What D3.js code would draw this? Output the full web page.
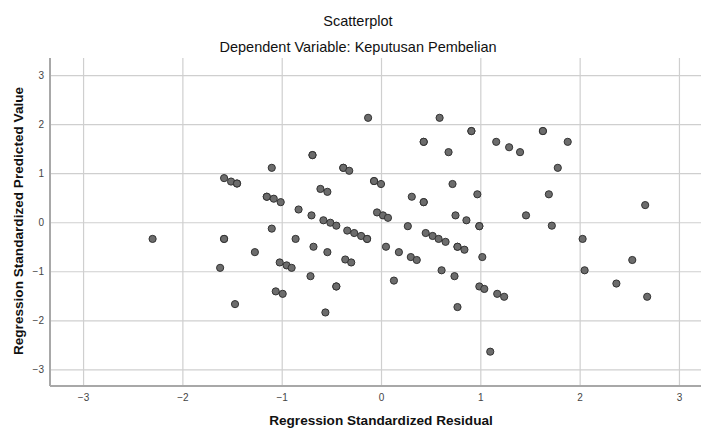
<!DOCTYPE html>
<html>
<head>
<meta charset="utf-8">
<script src="https://cdn.jsdelivr.net/npm/d3@7"></script>
<style>
  body { margin: 0; background: #fff; }
  svg { display: block; font-family: "Liberation Sans", Arial, sans-serif; }
</style>
</head>
<body>
<svg id="chart" width="701" height="428"></svg>
<script>
const title = "Scatterplot";
const subtitle = "Dependent Variable: Keputusan Pembelian";
const xLabel = "Regression Standardized Residual";
const yLabel = "Regression Standardized Predicted Value";
const xTicks = [-3, -2, -1, 0, 1, 2, 3];
const yTicks = [3, 2, 1, 0, -1, -2, -3];

// Standardized residuals (x) and standardized predicted values (y)
const residuals = [
  -2.30, -1.62, -1.58, -1.58, -1.58, -1.51, -1.45, -1.45, -1.47, -1.27,
  -1.10, -1.15, -1.15, -1.08, -1.01, -1.10, -1.02, -0.95, -0.90, -1.06,
  -0.99, -0.86, -0.83, -0.70, -0.69, -0.69, -0.61, -0.54, -0.58, -0.51,
  -0.45, -0.68, -0.71, -0.54, -0.56, -0.45, -0.45, -0.38, -0.38, -0.32,
  -0.36, -0.30, -0.34, -0.27, -0.20, -0.14, -0.14, -0.13, -0.07, -0.07,
   0.00, -0.04, 0.02, 0.07, 0.05, 0.18, 0.13, 0.27, 0.31, 0.30,
   0.36, 0.43, 0.43, 0.43, 0.43, 0.45, 0.52, 0.58, 0.65, 0.59,
   0.61, 0.68, 0.72, 0.75, 0.74, 0.77, 0.77, 0.84, 0.77, 0.86,
   0.91, 0.91, 0.97, 0.99, 0.99, 1.02, 0.99, 1.04, 1.10, 1.16,
   1.17, 1.24, 1.29, 1.40, 1.46, 1.63, 1.63, 1.69, 1.72, 1.78,
   1.88, 2.03, 2.05, 2.37, 2.53, 2.66, 2.68
];
const predicted = [
  -0.34, -0.93, -0.34, -0.34, 0.90, 0.83, 0.79, 0.79, -1.67, -0.61,
   1.11, 0.52, 0.52, 0.48, 0.41, -0.13, -0.82, -0.88, -0.93, -1.41,
  -1.46, -0.34, 0.26, 0.14, 1.37, 1.37, 0.68, 0.62, 0.04, -0.01,
  -0.07, -0.50, -1.10, -0.61, -1.84, -1.31, -1.31, 1.11, 1.11, 1.05,
  -0.76, -0.82, -0.17, -0.22, -0.28, -0.34, -0.34, 2.13, 0.84, 0.84,
   0.78, 0.20, 0.14, 0.09, -0.50, -0.61, -1.19, -0.08, 0.52, -0.71,
  -0.77, 1.64, 1.64, 0.41, 0.41, -0.22, -0.28, -0.34, -0.40, 2.13,
  -0.98, 1.43, 0.78, 0.14, -1.10, -0.50, -0.50, -0.56, -1.73, 0.04,
   1.86, 1.86, 0.57, -0.08, -0.08, -0.71, -1.31, -1.36, -2.64, 1.64,
  -1.46, -1.52, 1.53, 1.43, 0.14, 1.86, 1.86, 0.57, -0.07, 1.11,
   1.64, -0.34, -0.98, -1.25, -0.77, 0.35, -1.52
];

const svg = d3.select("#chart");
const pLeft = 50, pRight = 701, pTop = 58, pBottom = 386;

const x = d3.scaleLinear().domain([-3.333, 3.222]).range([pLeft, pRight]);
const y = d3.scaleLinear().domain([-3.34, 3.35]).range([pBottom, pTop]);

// Grid lines
const xAxis = d3.axisBottom(x).tickValues(xTicks).tickSize(-(pBottom - pTop)).tickFormat(d3.format("d"));
const yAxis = d3.axisLeft(y).tickValues(yTicks).tickSize(-(pRight - pLeft)).tickFormat(d3.format("d"));

const gx = svg.append("g").attr("transform", `translate(0,${pBottom})`).call(xAxis);
const gy = svg.append("g").attr("transform", `translate(${pLeft},0)`).call(yAxis);

[gx, gy].forEach(g => {
  g.select(".domain").remove();
  g.selectAll(".tick line").attr("stroke", "#cfcfcf").attr("stroke-width", 1.2);
  g.selectAll(".tick text").attr("fill", "#444").attr("font-size", "10px")
    .attr("font-family", "'Liberation Sans', Arial, sans-serif");
});
gx.selectAll(".tick text").attr("dy", "0").attr("y", 15);
gy.selectAll(".tick text").attr("x", -6);

// Axis lines
svg.append("line").attr("x1", pLeft).attr("x2", pLeft).attr("y1", pTop).attr("y2", pBottom)
  .attr("stroke", "#a8a8a8").attr("stroke-width", 2);
svg.append("line").attr("x1", pLeft).attr("x2", pRight).attr("y1", pBottom).attr("y2", pBottom)
  .attr("stroke", "#a8a8a8").attr("stroke-width", 2);

// Points
const pts = residuals.map((r, i) => ({ r, p: predicted[i] }));
svg.append("g").selectAll("circle").data(pts).join("circle")
  .attr("cx", d => x(d.r))
  .attr("cy", d => y(d.p))
  .attr("r", 3.6)
  .attr("fill", "#6c6c6c")
  .attr("stroke", "#333")
  .attr("stroke-width", 1);

// Titles
svg.append("text").attr("x", 358).attr("y", 26).attr("text-anchor", "middle")
  .attr("font-size", "14.5px").attr("fill", "#111").text(title);
svg.append("text").attr("x", 358).attr("y", 52).attr("text-anchor", "middle")
  .attr("font-size", "14.5px").attr("fill", "#111").text(subtitle);

svg.append("text").attr("x", 381).attr("y", 425).attr("text-anchor", "middle")
  .attr("font-size", "13.6px").attr("font-weight", "bold").attr("fill", "#111").text(xLabel);
svg.append("text").attr("transform", "translate(23,221) rotate(-90)").attr("text-anchor", "middle")
  .attr("font-size", "13.6px").attr("font-weight", "bold").attr("fill", "#111").text(yLabel);
</script>
</body>
</html>
